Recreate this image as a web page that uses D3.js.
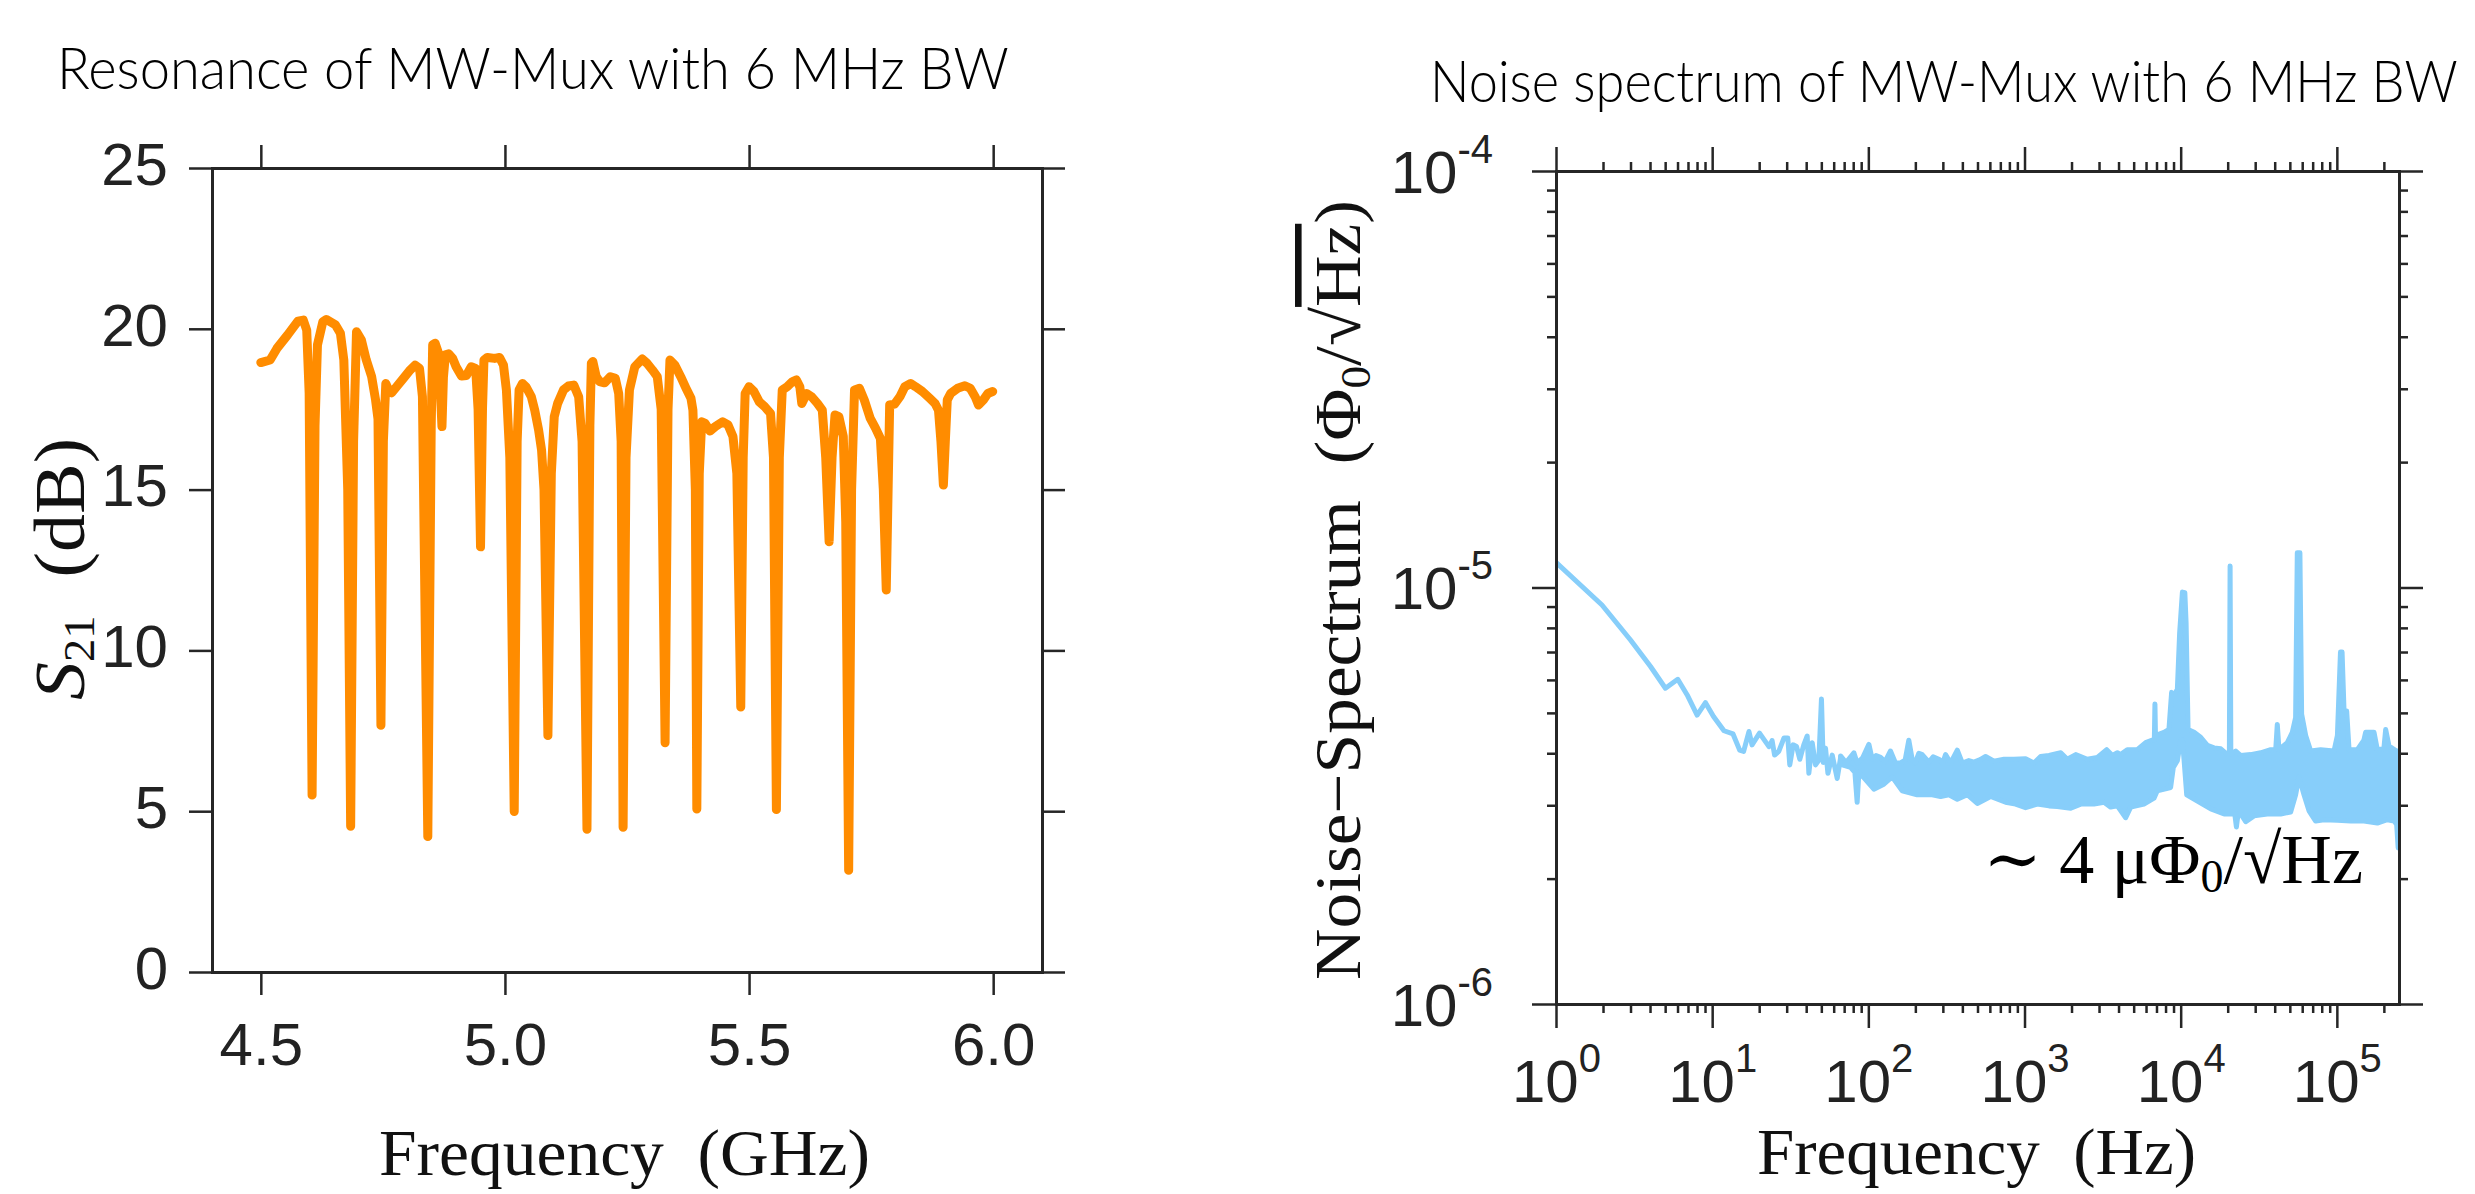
<!DOCTYPE html>
<html><head><meta charset="utf-8">
<script src="https://cdn.jsdelivr.net/npm/d3@7"></script>
<style>
html,body{margin:0;padding:0;background:#fff;}
svg{display:block;}
text{white-space:pre;}
</style></head>
<body>
<svg id="chart" width="2475" height="1194"></svg>
<script>
// ---------------- DATA ----------------
// Left panel: S21 transmission (GHz, dB)
const s21Freq = [4.500,4.519,4.533,4.555,4.576,4.587,4.594,4.599,4.605,4.611,4.616,4.627,4.634,4.653,4.663,4.670,4.678,4.684,4.690,4.696,4.706,4.716,4.727,4.735,4.740,4.746,4.751,4.756,4.763,4.768,4.778,4.792,4.806,4.816,4.825,4.831,4.842,4.849,4.852,4.857,4.864,4.868,4.871,4.874,4.878,4.885,4.893,4.900,4.911,4.921,4.931,4.940,4.945,4.950,4.954,4.957,4.964,4.979,4.989,4.997,5.003,5.010,5.019,5.025,5.029,5.036,5.043,5.054,5.061,5.069,5.075,5.080,5.088,5.095,5.101,5.108,5.120,5.130,5.141,5.151,5.158,5.168,5.174,5.177,5.180,5.187,5.194,5.204,5.216,5.226,5.233,5.238,5.242,5.248,5.255,5.266,5.281,5.291,5.302,5.312,5.320,5.328,5.334,5.338,5.348,5.360,5.371,5.381,5.385,5.390,5.393,5.398,5.403,5.410,5.420,5.431,5.446,5.457,5.467,5.475,5.483,5.488,5.492,5.500,5.510,5.521,5.532,5.544,5.550,5.556,5.562,5.568,5.578,5.589,5.597,5.604,5.608,5.618,5.628,5.640,5.650,5.657,5.664,5.670,5.676,5.684,5.693,5.698,5.704,5.710,5.716,5.726,5.736,5.748,5.759,5.769,5.775,5.781,5.786,5.788,5.798,5.809,5.819,5.831,5.841,5.855,5.870,5.881,5.888,5.893,5.898,5.902,5.906,5.913,5.927,5.942,5.953,5.963,5.970,5.980,5.989,5.999];
const s21dB = [18.95,19.03,19.39,19.81,20.24,20.27,19.96,18.0,5.5,17.0,19.5,20.22,20.29,20.12,19.86,19.03,15.0,4.53,16.5,19.91,19.65,19.03,18.51,17.79,17.2,7.67,16.5,18.30,18.05,18.01,18.20,18.46,18.72,18.87,18.77,17.89,4.21,17.0,19.50,19.55,19.24,18.0,16.96,18.5,19.19,19.22,19.08,18.82,18.53,18.55,18.82,18.77,17.5,13.22,17.5,19.03,19.11,19.08,19.11,18.87,18.10,16.0,4.99,16.5,18.10,18.30,18.20,17.89,17.47,16.85,16.23,15.0,7.35,15.5,17.27,17.68,18.10,18.22,18.25,17.89,16.5,4.44,17.0,18.93,18.98,18.51,18.36,18.32,18.51,18.46,17.99,16.5,4.50,16.0,18.10,18.82,19.06,18.93,18.72,18.51,17.5,7.13,17.5,19.03,18.87,18.51,18.15,17.84,17.47,15.0,5.07,15.5,17.11,17.06,16.82,16.96,17.11,17.01,16.65,15.5,8.24,16.0,17.99,18.20,18.05,17.73,17.58,17.37,16.0,5.05,16.0,18.10,18.20,18.36,18.41,18.20,17.68,17.99,17.89,17.68,17.47,16.0,13.38,16.0,17.32,17.27,16.65,14.0,3.16,15.0,18.10,18.15,17.79,17.22,16.91,16.59,15.0,11.88,16.0,17.63,17.66,17.89,18.20,18.30,18.20,18.05,17.84,17.68,17.47,16.5,15.14,16.5,17.79,17.99,18.15,18.23,18.15,17.89,17.63,17.79,17.99,18.05];

const xTicksL = [4.5, 5.0, 5.5, 6.0];
const xTickLabelsL = ['4.5', '5.0', '5.5', '6.0'];
const yTicksL = [0, 5, 10, 15, 20, 25];
const yTickLabelsL = ['0', '5', '10', '15', '20', '25'];

// Right panel: noise spectrum, low-frequency trace (Hz, Phi0/sqrt(Hz))
const noiseFreq = [1.0,1.97,3.0,4.03,5.02,6.02,6.92,8.01,9.06,10.2,11.9,13.6,15.0,15.9,17.2,18.0,20.1,23.1,24.2,25.1,26.7,28.8,30.5,31.4,33.0,34.7,36.4,38.6,40.6,41.6,43.7,45.9,48.2,50.1,51.4,53.2,55.1,58.7,63.2,66.4];
const noiseVal = [1.15e-5,9.08e-6,7.48e-6,6.46e-6,5.73e-6,6.02e-6,5.52e-6,4.94e-6,5.29e-6,4.90e-6,4.53e-6,4.45e-6,4.07e-6,4.04e-6,4.51e-6,4.19e-6,4.47e-6,4.15e-6,4.29e-6,3.96e-6,4.04e-6,4.35e-6,4.35e-6,3.75e-6,4.19e-6,4.15e-6,3.87e-6,4.19e-6,4.40e-6,3.58e-6,4.24e-6,3.75e-6,3.85e-6,5.40e-6,3.80e-6,4.11e-6,3.58e-6,3.96e-6,3.48e-6,3.90e-6];

// Dense noise band: upper and lower envelopes
const bandUpperFreq = [66.4,72,80.8,84.8,92,100.8,105.9,112,119.7,128,138.6,149.2,160.6,172,181.6,190.8,200,210.6,221.3,244.1,260,283.1,300,312.3,336.5,371.2,399.5,440,474.5,520,563.4,637.6,738.8,855,1016,1150,1268,1435,1706,1880,2127,2526,2929,3359,3653,3933,4127,4550,5275,5966,6580,6780,6841,6900,7080,7810,8410,8749,9060,9523,9850,10255,10630,10830,11150,12190,13430,14820,16360,18060,19920,20500,20720,20950,22520,24230,28070,32520,37670,40600,41560,42600,48160,51860,54450,55800,58000,59500,63150,68000,78680,95920,100800,105500,108000,111200,115600,119700,135300,149000,152900,172900,181700,200000,205400,215900,241500,250000];
const bandUpperVal = [3.94e-6,3.80e-6,4.01e-6,3.79e-6,3.90e-6,4.20e-6,3.87e-6,3.95e-6,3.91e-6,3.82e-6,4.05e-6,3.79e-6,3.79e-6,3.85e-6,4.30e-6,3.87e-6,3.80e-6,4.00e-6,3.97e-6,3.81e-6,3.92e-6,3.87e-6,3.80e-6,3.97e-6,3.79e-6,4.07e-6,3.79e-6,3.84e-6,3.81e-6,3.86e-6,3.93e-6,3.83e-6,3.87e-6,3.87e-6,3.88e-6,3.79e-6,3.93e-6,3.95e-6,4.01e-6,3.87e-6,3.97e-6,3.87e-6,3.91e-6,4.08e-6,3.95e-6,4.01e-6,3.97e-6,4.08e-6,4.08e-6,4.24e-6,4.30e-6,4.30e-6,5.25e-6,4.35e-6,4.43e-6,4.49e-6,4.56e-6,5.60e-6,5.50e-6,5.70e-6,7.79e-6,9.75e-6,9.72e-6,8.23e-6,4.56e-6,4.49e-6,4.37e-6,4.18e-6,4.12e-6,4.10e-6,3.97e-6,3.97e-6,1.126e-5,3.97e-6,4.05e-6,3.95e-6,3.97e-6,4.01e-6,4.08e-6,4.08e-6,4.69e-6,4.08e-6,4.24e-6,4.49e-6,4.87e-6,1.212e-5,1.212e-5,4.96e-6,4.41e-6,4.05e-6,4.08e-6,4.05e-6,4.41e-6,7.00e-6,7.00e-6,5.05e-6,5.05e-6,4.08e-6,4.08e-6,4.30e-6,4.49e-6,4.49e-6,4.08e-6,4.10e-6,4.56e-6,4.16e-6,4.05e-6,4.05e-6];
const bandLowerFreq = [66.4,76.9,82,84.8,87,89.1,108.5,125.7,142.0,164.7,205.4,256.6,290.1,328.2,371.2,430,498.6,606.7,756.6,877,1016,1208,1435,1622,1976,2290,2787,3229,3564,3933,4445,4783,5817,6748,7080,8620,8972,9523,10010,10255,10520,10930,12800,15590,18960,22200,22740,23300,24230,26090,29500,35870,43660,50590,54450,57200,61610,66350,73150,82680,100800,122600,149200,181700,210600,232200,241500,247000,250000];
const bandLowerVal = [3.76e-6,3.70e-6,3.60e-6,3.05e-6,3.60e-6,3.57e-6,3.28e-6,3.37e-6,3.51e-6,3.25e-6,3.18e-6,3.18e-6,3.15e-6,3.18e-6,3.10e-6,3.18e-6,3.03e-6,3.15e-6,3.05e-6,3.02e-6,2.96e-6,3.02e-6,2.99e-6,2.98e-6,2.95e-6,3.02e-6,3.02e-6,3.05e-6,2.97e-6,2.99e-6,2.80e-6,2.97e-6,3.02e-6,3.12e-6,3.25e-6,3.31e-6,3.70e-6,3.84e-6,4.31e-6,4.31e-6,3.84e-6,3.18e-6,3.07e-6,2.94e-6,2.86e-6,2.86e-6,2.66e-6,2.86e-6,2.86e-6,2.74e-6,2.83e-6,2.86e-6,2.86e-6,2.89e-6,3.18e-6,3.51e-6,3.18e-6,2.91e-6,2.75e-6,2.77e-6,2.76e-6,2.75e-6,2.75e-6,2.72e-6,2.77e-6,2.75e-6,2.70e-6,2.37e-6,2.50e-6];

const xTicksR = [1, 10, 100, 1000, 10000, 100000];
const xTickExpR = ['0', '1', '2', '3', '4', '5'];
const yTicksR = [1e-4, 1e-5, 1e-6];
const yTickExpR = ['-4', '-5', '-6'];

// ---------------- DRAWING ----------------
const W = 2475, H = 1194;
const AX = '#262626';
const SANS = "'Liberation Sans', Arial, Helvetica, sans-serif";
const TITLEF = "Lato, 'Open Sans', 'Noto Sans', sans-serif";
const SERIF = "'Liberation Serif', 'Times New Roman', 'DejaVu Serif', serif";
const ORANGE = '#FF8C00', BLUE = '#87CEFA';

const svg = d3.select('#chart');
svg.append('rect').attr('width', W).attr('height', H).attr('fill', '#fff');
const defs = svg.append('defs');

function styleAxis(g, showDomain) {
  g.attr('font-family', SANS).attr('font-size', 60);
  g.selectAll('.domain').attr('stroke', showDomain ? AX : 'none').attr('stroke-width', 3).attr('stroke-linecap', 'square');
  g.selectAll('.tick line').attr('stroke', AX).attr('stroke-width', 2.5);
  g.selectAll('.tick text').attr('fill', '#222');
  return g;
}

// ---- Left panel ----
const L = {x0: 212, x1: 1042, y0: 168, y1: 972};
const xL = d3.scaleLinear().domain([4.4, 6.1]).range([L.x0, L.x1]);
const yL = d3.scaleLinear().domain([0, 25]).range([L.y1, L.y0]);

defs.append('clipPath').attr('id', 'clipL').append('rect')
  .attr('x', L.x0).attr('y', L.y0).attr('width', L.x1 - L.x0).attr('height', L.y1 - L.y0);

const s21 = s21Freq.map((f, i) => [f, s21dB[i]]);
svg.append('path').datum(s21)
  .attr('clip-path', 'url(#clipL)')
  .attr('d', d3.line().x(d => xL(d[0])).y(d => yL(d[1])))
  .attr('fill', 'none').attr('stroke', ORANGE).attr('stroke-width', 9)
  .attr('stroke-linejoin', 'round').attr('stroke-linecap', 'round');

styleAxis(svg.append('g').attr('transform', `translate(0,${L.y1})`)
  .call(d3.axisBottom(xL).tickValues(xTicksL).tickFormat((d, i) => xTickLabelsL[i])
    .tickSize(23).tickSizeOuter(0).tickPadding(27)), true);
styleAxis(svg.append('g').attr('transform', `translate(0,${L.y0})`)
  .call(d3.axisTop(xL).tickValues(xTicksL).tickFormat('').tickSize(23).tickSizeOuter(0)), true);
const gyl = styleAxis(svg.append('g').attr('transform', `translate(${L.x0},0)`)
  .call(d3.axisLeft(yL).tickValues(yTicksL).tickFormat((d, i) => yTickLabelsL[i])
    .tickSize(23).tickSizeOuter(0).tickPadding(21)), true);
gyl.selectAll('.tick text').attr('dy', '0.27em');
styleAxis(svg.append('g').attr('transform', `translate(${L.x1},0)`)
  .call(d3.axisRight(yL).tickValues(yTicksL).tickFormat('').tickSize(23).tickSizeOuter(0)), true);

// ---- Right panel ----
const R = {x0: 1556, x1: 2399, y0: 171, y1: 1004};
const xR = d3.scaleLog().domain([1, 2.5e5]).range([R.x0, R.x1]);
const yR = d3.scaleLog().domain([1e-6, 1e-4]).range([R.y1, R.y0]);

defs.append('clipPath').attr('id', 'clipR').append('rect')
  .attr('x', R.x0).attr('y', R.y0).attr('width', R.x1 - R.x0).attr('height', R.y1 - R.y0);

const gData = svg.append('g').attr('clip-path', 'url(#clipR)');
const lineR = d3.line().x(d => xR(d[0])).y(d => yR(d[1]));
const upper = bandUpperFreq.map((f, i) => [f, bandUpperVal[i]]);
const lower = bandLowerFreq.map((f, i) => [f, bandLowerVal[i]]);
const band = upper.concat(lower.slice().reverse());
gData.append('path').datum(band)
  .attr('d', d => lineR(d) + 'Z')
  .attr('fill', BLUE).attr('stroke', BLUE).attr('stroke-width', 5).attr('stroke-linejoin', 'round');
gData.append('path').datum(noiseFreq.map((f, i) => [f, noiseVal[i]]))
  .attr('d', lineR)
  .attr('fill', 'none').attr('stroke', BLUE).attr('stroke-width', 5)
  .attr('stroke-linejoin', 'round').attr('stroke-linecap', 'round');

const isDecade = v => Math.abs(Math.log10(v) - Math.round(Math.log10(v))) < 1e-9;
const minorX = xR.ticks().filter(v => !isDecade(v));
const minorY = yR.ticks().filter(v => !isDecade(v));

// minor ticks
styleAxis(svg.append('g').attr('transform', `translate(0,${R.y1})`)
  .call(d3.axisBottom(xR).tickValues(minorX).tickFormat('').tickSize(9).tickSizeOuter(0)), false);
styleAxis(svg.append('g').attr('transform', `translate(0,${R.y0})`)
  .call(d3.axisTop(xR).tickValues(minorX).tickFormat('').tickSize(9).tickSizeOuter(0)), false);
styleAxis(svg.append('g').attr('transform', `translate(${R.x0},0)`)
  .call(d3.axisLeft(yR).tickValues(minorY).tickFormat('').tickSize(9).tickSizeOuter(0)), false);
styleAxis(svg.append('g').attr('transform', `translate(${R.x1},0)`)
  .call(d3.axisRight(yR).tickValues(minorY).tickFormat('').tickSize(9).tickSizeOuter(0)), false);

// major ticks
const gxb = styleAxis(svg.append('g').attr('transform', `translate(0,${R.y1})`)
  .call(d3.axisBottom(xR).tickValues(xTicksR).tickFormat(() => '').tickSize(24).tickSizeOuter(0)), true);
gxb.selectAll('.tick text').each(function (d, i) {
  const t = d3.select(this);
  t.text(null).attr('y', 98).attr('dy', null).attr('text-anchor', 'middle');
  t.append('tspan').text('10');
  t.append('tspan').attr('dy', -30).attr('font-size', 40).text(xTickExpR[i]);
});
styleAxis(svg.append('g').attr('transform', `translate(0,${R.y0})`)
  .call(d3.axisTop(xR).tickValues(xTicksR).tickFormat('').tickSize(24).tickSizeOuter(0)), true);
const gyr = styleAxis(svg.append('g').attr('transform', `translate(${R.x0},0)`)
  .call(d3.axisLeft(yR).tickValues(yTicksR).tickFormat(() => '').tickSize(24).tickSizeOuter(0).tickPadding(39)), true);
gyr.selectAll('.tick text').each(function (d, i) {
  const t = d3.select(this);
  t.text(null).attr('y', 21).attr('dy', null).attr('text-anchor', 'end');
  t.append('tspan').text('10');
  t.append('tspan').attr('dy', -30).attr('font-size', 40).text(yTickExpR[i]);
});
styleAxis(svg.append('g').attr('transform', `translate(${R.x1},0)`)
  .call(d3.axisRight(yR).tickValues(yTicksR).tickFormat('').tickSize(24).tickSizeOuter(0)), true);

// ---- Titles (horizontally condensed to the reference width) ----
function condensedTitle(str, x, y, targetWidth) {
  const t = svg.append('text').attr('x', 0).attr('y', 0)
    .attr('font-family', TITLEF).attr('font-weight', 300).attr('font-size', 58).attr('fill', '#000')
    .text(str);
  const w = t.node().getComputedTextLength() || targetWidth;
  t.attr('transform', `translate(${x},${y}) scale(${targetWidth / w},1)`);
  return t;
}
condensedTitle('Resonance of MW-Mux with 6 MHz BW', 57, 89, 952);
condensedTitle('Noise spectrum of MW-Mux with 6 MHz BW', 1430, 102, 1028);

// ---- Axis titles ----
svg.append('text').attr('x', 379).attr('y', 1175)
  .attr('font-family', SERIF).attr('font-size', 66).attr('fill', '#111')
  .attr('textLength', 491).attr('lengthAdjust', 'spacingAndGlyphs')
  .text('Frequency  (GHz)');
svg.append('text').attr('x', 1757).attr('y', 1174)
  .attr('font-family', SERIF).attr('font-size', 66).attr('fill', '#111')
  .attr('textLength', 439).attr('lengthAdjust', 'spacingAndGlyphs')
  .text('Frequency  (Hz)');

const yl = svg.append('text').attr('transform', 'translate(84,700) rotate(-90)')
  .attr('font-family', SERIF).attr('font-size', 72).attr('fill', '#111')
  .attr('textLength', 262).attr('lengthAdjust', 'spacingAndGlyphs');
yl.append('tspan').attr('font-style', 'italic').text('S');
yl.append('tspan').attr('font-size', 44).attr('dy', 10).text('21');
yl.append('tspan').attr('dy', -10).text('  (dB)');

const yr = svg.append('text').attr('transform', 'translate(1360,980) rotate(-90)')
  .attr('font-family', SERIF).attr('font-size', 66).attr('fill', '#111')
  .attr('textLength', 780).attr('lengthAdjust', 'spacingAndGlyphs');
yr.append('tspan').text('Noise\u2212Spectrum  (\u03A6');
yr.append('tspan').attr('font-size', 42).attr('dy', 10).text('0');
yr.append('tspan').attr('dy', -10).text('/\u221A');
yr.append('tspan').attr('text-decoration', 'overline').text('Hz');
yr.append('tspan').text(')');

// ---- Annotation ----
const ann = svg.append('text').attr('x', 2363).attr('y', 883)
  .attr('font-family', SERIF).attr('font-size', 70).attr('fill', '#000')
  .attr('text-anchor', 'end');
ann.append('tspan').text('\u223C 4 \u03BC\u03A6');
ann.append('tspan').attr('font-size', 46).attr('dy', 9).text('0');
ann.append('tspan').attr('dy', -9).text('/\u221AHz');
</script>
</body></html>
